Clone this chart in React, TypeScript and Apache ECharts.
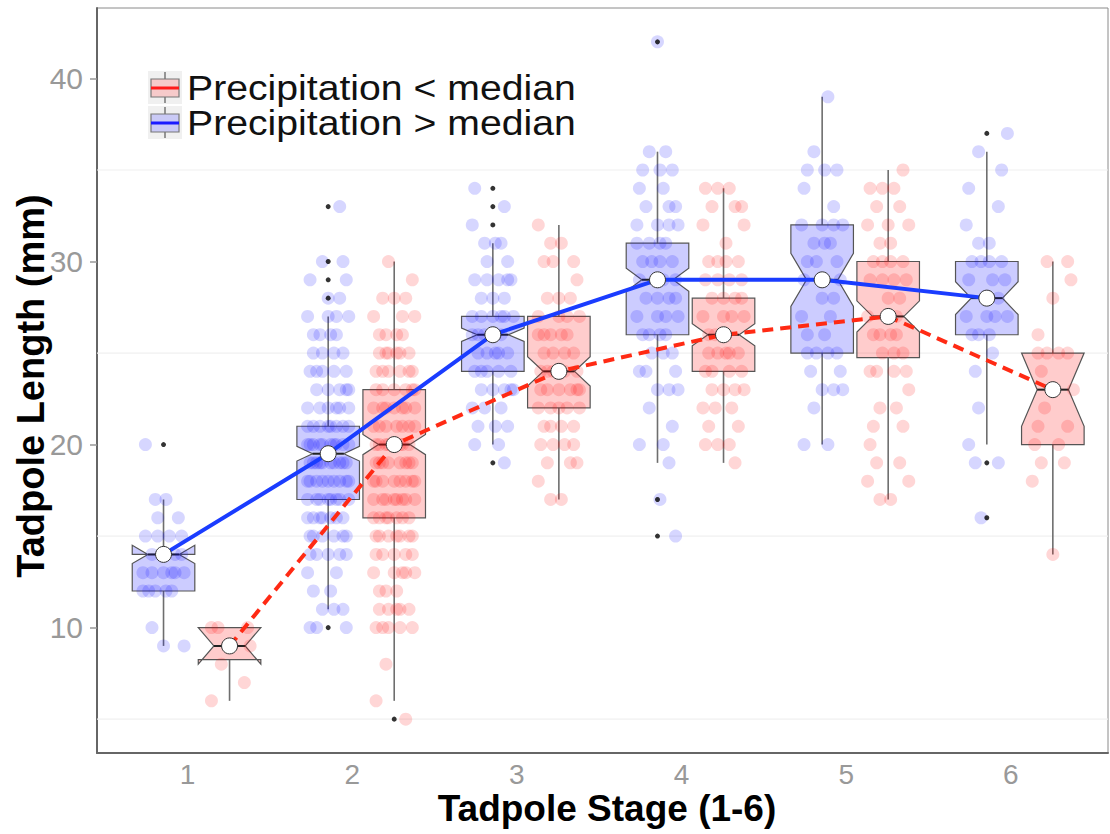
import React, { useEffect, useRef } from "react";
import * as echarts from "echarts";

// ---------- data ----------
const stages = [1, 2, 3, 4, 5, 6];
const stageLabels = ["1", "2", "3", "4", "5", "6"];
const yTickValues = [10, 20, 30, 40];
const minorGridValues = [5, 15, 25, 35];
const legendLabels = ["Precipitation < median", "Precipitation > median"];
const xTitle = "Tadpole Stage (1-6)";
const yTitle = "Tadpole Length (mm)";

// box stats per stage: [lower whisker, Q1, median, Q3, upper whisker, notch half-width]
const lowBox = [
  [6, 8.25, 9, 10, 10, 1.0],
  [6, 16, 20, 23, 30, 0.55],
  [17, 22, 24, 27, 32, 0.8],
  [19, 24, 26, 28, 34, 0.6],
  [17, 24.75, 27, 30, 35, 0.85],
  [14, 20, 23, 25, 30, 2.0],
];
const highBox = [
  [9, 12, 14, 14, 17, 0.5],
  [11, 17, 19.5, 21, 27, 0.4],
  [20, 24, 26, 27, 31, 0.36],
  [19, 26, 29, 31, 36, 0.63],
  [20, 25, 29, 32, 39, 1.45],
  [20, 26, 28, 30, 36, 0.9],
];

// outliers per stage
const lowOutliers = [[], [5], [], [], [], []];
const highOutliers = [[20], [33, 30, 29, 28, 10], [34, 33, 32, 19], [42, 17, 15], [], [37, 19, 16]];

// observations per stage: [length mm, number of tadpoles]
const lowCounts = [
  [[10, 3], [9, 2], [8, 1], [7, 1], [6, 1]],
  [[30, 1], [29, 1], [28, 3], [27, 3], [26, 4], [25, 6], [24, 6], [23, 6], [22, 7], [21, 7], [20, 8], [19, 8], [18, 8], [17, 8], [16, 7], [15, 7], [14, 5], [13, 5], [12, 3], [11, 5], [10, 5], [8, 1], [6, 1], [5, 1]],
  [[32, 1], [31, 2], [30, 3], [29, 1], [28, 3], [27, 4], [26, 5], [25, 4], [24, 5], [23, 6], [22, 5], [21, 4], [20, 4], [19, 3], [18, 1], [17, 2]],
  [[34, 3], [33, 3], [32, 2], [31, 1], [30, 4], [29, 4], [28, 4], [27, 4], [26, 3], [25, 5], [24, 4], [23, 4], [22, 3], [21, 2], [20, 3], [19, 1]],
  [[35, 1], [34, 3], [33, 2], [32, 3], [31, 2], [30, 4], [29, 4], [28, 2], [27, 2], [26, 4], [25, 3], [24, 4], [23, 1], [22, 2], [21, 2], [20, 1], [19, 2], [18, 2], [17, 2]],
  [[30, 2], [29, 1], [28, 1], [26, 1], [25, 4], [24, 1], [23, 1], [22, 1], [21, 2], [20, 2], [19, 2], [18, 1], [14, 1]],
];
const highCounts = [
  [[20, 1], [17, 2], [16, 2], [15, 4], [14, 4], [13, 6], [12, 5], [10, 1], [9, 2]],
  [[33, 1], [30, 2], [29, 2], [28, 2], [27, 4], [26, 4], [25, 4], [24, 5], [23, 5], [22, 6], [21, 8], [20, 10], [19, 10], [18, 9], [17, 8], [16, 7], [15, 6], [14, 5], [13, 2], [12, 2], [11, 3], [10, 3]],
  [[34, 1], [33, 1], [32, 1], [31, 3], [30, 2], [29, 5], [28, 3], [27, 6], [26, 5], [25, 5], [24, 5], [23, 5], [22, 3], [21, 3], [20, 2], [19, 1]],
  [[42, 1], [36, 2], [35, 3], [34, 2], [33, 3], [32, 4], [31, 4], [30, 4], [29, 3], [28, 4], [27, 4], [26, 4], [25, 3], [24, 3], [23, 3], [22, 1], [21, 1], [20, 2], [19, 1], [17, 1], [15, 1]],
  [[39, 1], [36, 1], [35, 3], [34, 1], [33, 1], [32, 4], [31, 3], [30, 3], [29, 2], [28, 2], [27, 2], [26, 2], [25, 4], [24, 2], [23, 3], [22, 1], [20, 2]],
  [[37, 1], [36, 1], [35, 1], [34, 1], [33, 1], [32, 1], [31, 2], [30, 4], [29, 3], [28, 2], [27, 4], [26, 3], [25, 1], [24, 1], [22, 1], [20, 1], [19, 2], [16, 1]],
];

// ---------- layout constants ----------
const LOW_OFFSET = 0.255;
const HIGH_OFFSET = -0.146;
const BOX_WIDTH = 0.38;
const JITTER = [0, 0.07, -0.07, 0.11, -0.11, 0.035, -0.035, 0.09, -0.09, 0.015, -0.05, 0.05, -0.125, 0.125];
const FONT = "'Liberation Sans', Arial, Helvetica, sans-serif";

const BLUE_LINE = "#1a3cff";
const RED_LINE = "#ff2a14";

function jitterData(counts: number[][][], offset: number) {
  const out: number[][] = [];
  stages.forEach((s, i) => {
    counts[i].forEach(([v, c]) => {
      for (let k = 0; k < c; k++) {
        out.push([s + offset + JITTER[(k + v * 3) % JITTER.length], v]);
      }
    });
  });
  return out;
}

function outlierData(outs: number[][], offset: number) {
  const out: number[][] = [];
  stages.forEach((s, i) => outs[i].forEach((v) => out.push([s + offset, v])));
  return out;
}

function boxSeries(box: number[][], offset: number, fill: string) {
  return {
    type: "custom",
    silent: true,
    z: 2,
    data: stages.map((s, i) => [s + offset, ...box[i]]),
    encode: { x: 0, y: [1, 5] },
    renderItem: (_p: any, api: any) => {
      const cx = api.value(0);
      const lo = api.value(1), q1 = api.value(2), med = api.value(3), q3 = api.value(4), hi = api.value(5), notch = api.value(6);
      const half = BOX_WIDTH / 2;
      const xmin = cx - half, xmax = cx + half, indent = BOX_WIDTH * 0.25;
      const nu = med + notch, nl = med - notch;
      const c = (x: number, y: number) => api.coord([x, y]);
      const pts = [
        [xmin, q3], [xmin, nu], [xmin + indent, med], [xmin, nl], [xmin, q1],
        [xmax, q1], [xmax, nl], [xmax - indent, med], [xmax, nu], [xmax, q3],
      ].map(([x, y]) => c(x, y));
      const top = c(cx, hi), q3p = c(cx, q3), q1p = c(cx, q1), bot = c(cx, lo);
      const ml = c(xmin + indent, med), mr = c(xmax - indent, med);
      return {
        type: "group",
        children: [
          { type: "line", shape: { x1: top[0], y1: top[1], x2: q3p[0], y2: q3p[1] }, style: { stroke: "#6e6e6e", lineWidth: 1.6 } },
          { type: "line", shape: { x1: q1p[0], y1: q1p[1], x2: bot[0], y2: bot[1] }, style: { stroke: "#6e6e6e", lineWidth: 1.6 } },
          { type: "polygon", shape: { points: pts }, style: { fill, stroke: "#555555", lineWidth: 1.2 } },
          { type: "line", shape: { x1: ml[0], y1: ml[1], x2: mr[0], y2: mr[1] }, style: { stroke: "#222222", lineWidth: 2 } },
        ],
      };
    },
  };
}

export default function App() {
  const ref = useRef<HTMLDivElement>(null);
  useEffect(() => {
    if (!ref.current) return;
    const chart = echarts.init(ref.current, null, { renderer: "svg" });
    const X_MIN = 0.45, X_MAX = 6.59;
    const option: any = {
      animation: false,
      backgroundColor: "#ffffff",
      grid: { left: 97, top: 8, width: 1011, height: 745, show: true, borderColor: "#8a8a8a", borderWidth: 1, backgroundColor: "transparent" },
      xAxis: {
        type: "value",
        min: X_MIN,
        max: X_MAX,
        axisLine: { show: true, onZero: false, lineStyle: { color: "#666666", width: 2 } },
        axisTick: { show: false },
        splitLine: { show: false },
        axisLabel: {
          customValues: stages,
          formatter: (v: number) => stageLabels[stages.indexOf(Math.round(v))] ?? "",
          color: "#999999",
          fontSize: 28,
          fontFamily: FONT,
          margin: 7,
        },
      },
      yAxis: {
        type: "value",
        min: 3.15,
        max: 43.85,
        axisLine: { show: true, onZero: false, lineStyle: { color: "#666666", width: 2 } },
        axisTick: { show: true, customValues: yTickValues, length: 7, lineStyle: { color: "#999999", width: 1.5 } },
        splitLine: { show: false },
        axisLabel: {
          customValues: yTickValues,
          color: "#999999",
          fontSize: 30,
          fontFamily: FONT,
          margin: 14,
        },
      },
      series: [
        {
          type: "custom",
          silent: true,
          z: 1,
          data: minorGridValues.map((v) => [v]),
          encode: { y: 0 },
          renderItem: (_p: any, api: any) => {
            const a = api.coord([X_MIN, api.value(0)]);
            const b = api.coord([X_MAX, api.value(0)]);
            return { type: "line", shape: { x1: a[0], y1: a[1], x2: b[0], y2: b[1] }, style: { stroke: "#f0f0f0", lineWidth: 1.2 } };
          },
        },
        boxSeries(highBox, HIGH_OFFSET, "rgba(0,0,255,0.2)"),
        boxSeries(lowBox, LOW_OFFSET, "rgba(255,0,0,0.2)"),
        {
          type: "scatter",
          silent: true,
          z: 3,
          symbol: "circle",
          symbolSize: 13,
          itemStyle: { color: "rgba(0,0,255,0.2)" },
          data: jitterData(highCounts, HIGH_OFFSET),
        },
        {
          type: "scatter",
          silent: true,
          z: 3,
          symbol: "circle",
          symbolSize: 13,
          itemStyle: { color: "rgba(255,0,0,0.2)" },
          data: jitterData(lowCounts, LOW_OFFSET),
        },
        {
          type: "scatter",
          silent: true,
          z: 4,
          symbol: "circle",
          symbolSize: 5,
          itemStyle: { color: "#000000" },
          data: [...outlierData(highOutliers, HIGH_OFFSET), ...outlierData(lowOutliers, LOW_OFFSET)],
        },
        {
          type: "line",
          silent: true,
          z: 5,
          data: stages.map((s, i) => [s + HIGH_OFFSET, highBox[i][2]]),
          lineStyle: { color: BLUE_LINE, width: 4 },
          symbol: "circle",
          symbolSize: 16,
          showAllSymbol: true,
          itemStyle: { color: "#ffffff", borderColor: "#333333", borderWidth: 1 },
        },
        {
          type: "line",
          silent: true,
          z: 5,
          data: stages.map((s, i) => [s + LOW_OFFSET, lowBox[i][2]]),
          lineStyle: { color: RED_LINE, width: 4, type: [11, 7] },
          symbol: "circle",
          symbolSize: 16,
          showAllSymbol: true,
          itemStyle: { color: "#ffffff", borderColor: "#333333", borderWidth: 1 },
        },
      ],
      graphic: [
        // legend
        { type: "rect", shape: { x: 148, y: 71, width: 34, height: 33 }, style: { fill: "#f0f0f0" }, z: 10 },
        { type: "rect", shape: { x: 148, y: 106, width: 34, height: 33 }, style: { fill: "#f0f0f0" }, z: 10 },
        { type: "line", shape: { x1: 165, y1: 72, x2: 165, y2: 103 }, style: { stroke: "#777777", lineWidth: 1.5 }, z: 11 },
        { type: "rect", shape: { x: 151, y: 79, width: 28, height: 18 }, style: { fill: "#f6caca", stroke: "#777777", lineWidth: 1.2 }, z: 12 },
        { type: "line", shape: { x1: 151, y1: 88, x2: 179, y2: 88 }, style: { stroke: "#ff1a1a", lineWidth: 3 }, z: 13 },
        { type: "line", shape: { x1: 165, y1: 107, x2: 165, y2: 138 }, style: { stroke: "#777777", lineWidth: 1.5 }, z: 11 },
        { type: "rect", shape: { x: 151, y: 114, width: 28, height: 18 }, style: { fill: "#cacaf6", stroke: "#777777", lineWidth: 1.2 }, z: 12 },
        { type: "line", shape: { x1: 151, y1: 123, x2: 179, y2: 123 }, style: { stroke: "#1a1aff", lineWidth: 3 }, z: 13 },
        { type: "text", x: 187, y: 88, scaleX: 1.12, z: 12, style: { text: legendLabels[0], fontSize: 35, fontFamily: FONT, fill: "#111111", textAlign: "left", textVerticalAlign: "middle" } },
        { type: "text", x: 187, y: 123, scaleX: 1.12, z: 12, style: { text: legendLabels[1], fontSize: 35, fontFamily: FONT, fill: "#111111", textAlign: "left", textVerticalAlign: "middle" } },
        // axis titles
        { type: "text", x: 607, y: 808, style: { text: xTitle, fontSize: 37, fontWeight: "bold", fontFamily: FONT, fill: "#000000", textAlign: "center", textVerticalAlign: "middle" } },
        { type: "text", x: 31, y: 386, rotation: Math.PI / 2, style: { text: yTitle, fontSize: 38, fontWeight: "bold", fontFamily: FONT, fill: "#000000", textAlign: "center", textVerticalAlign: "middle" } },
      ],
    };
    chart.setOption(option);
    return () => chart.dispose();
  }, []);
  return <div ref={ref} style={{ position: "fixed", left: 0, top: 0, width: 1110, height: 834, background: "#fff" }} />;
}
